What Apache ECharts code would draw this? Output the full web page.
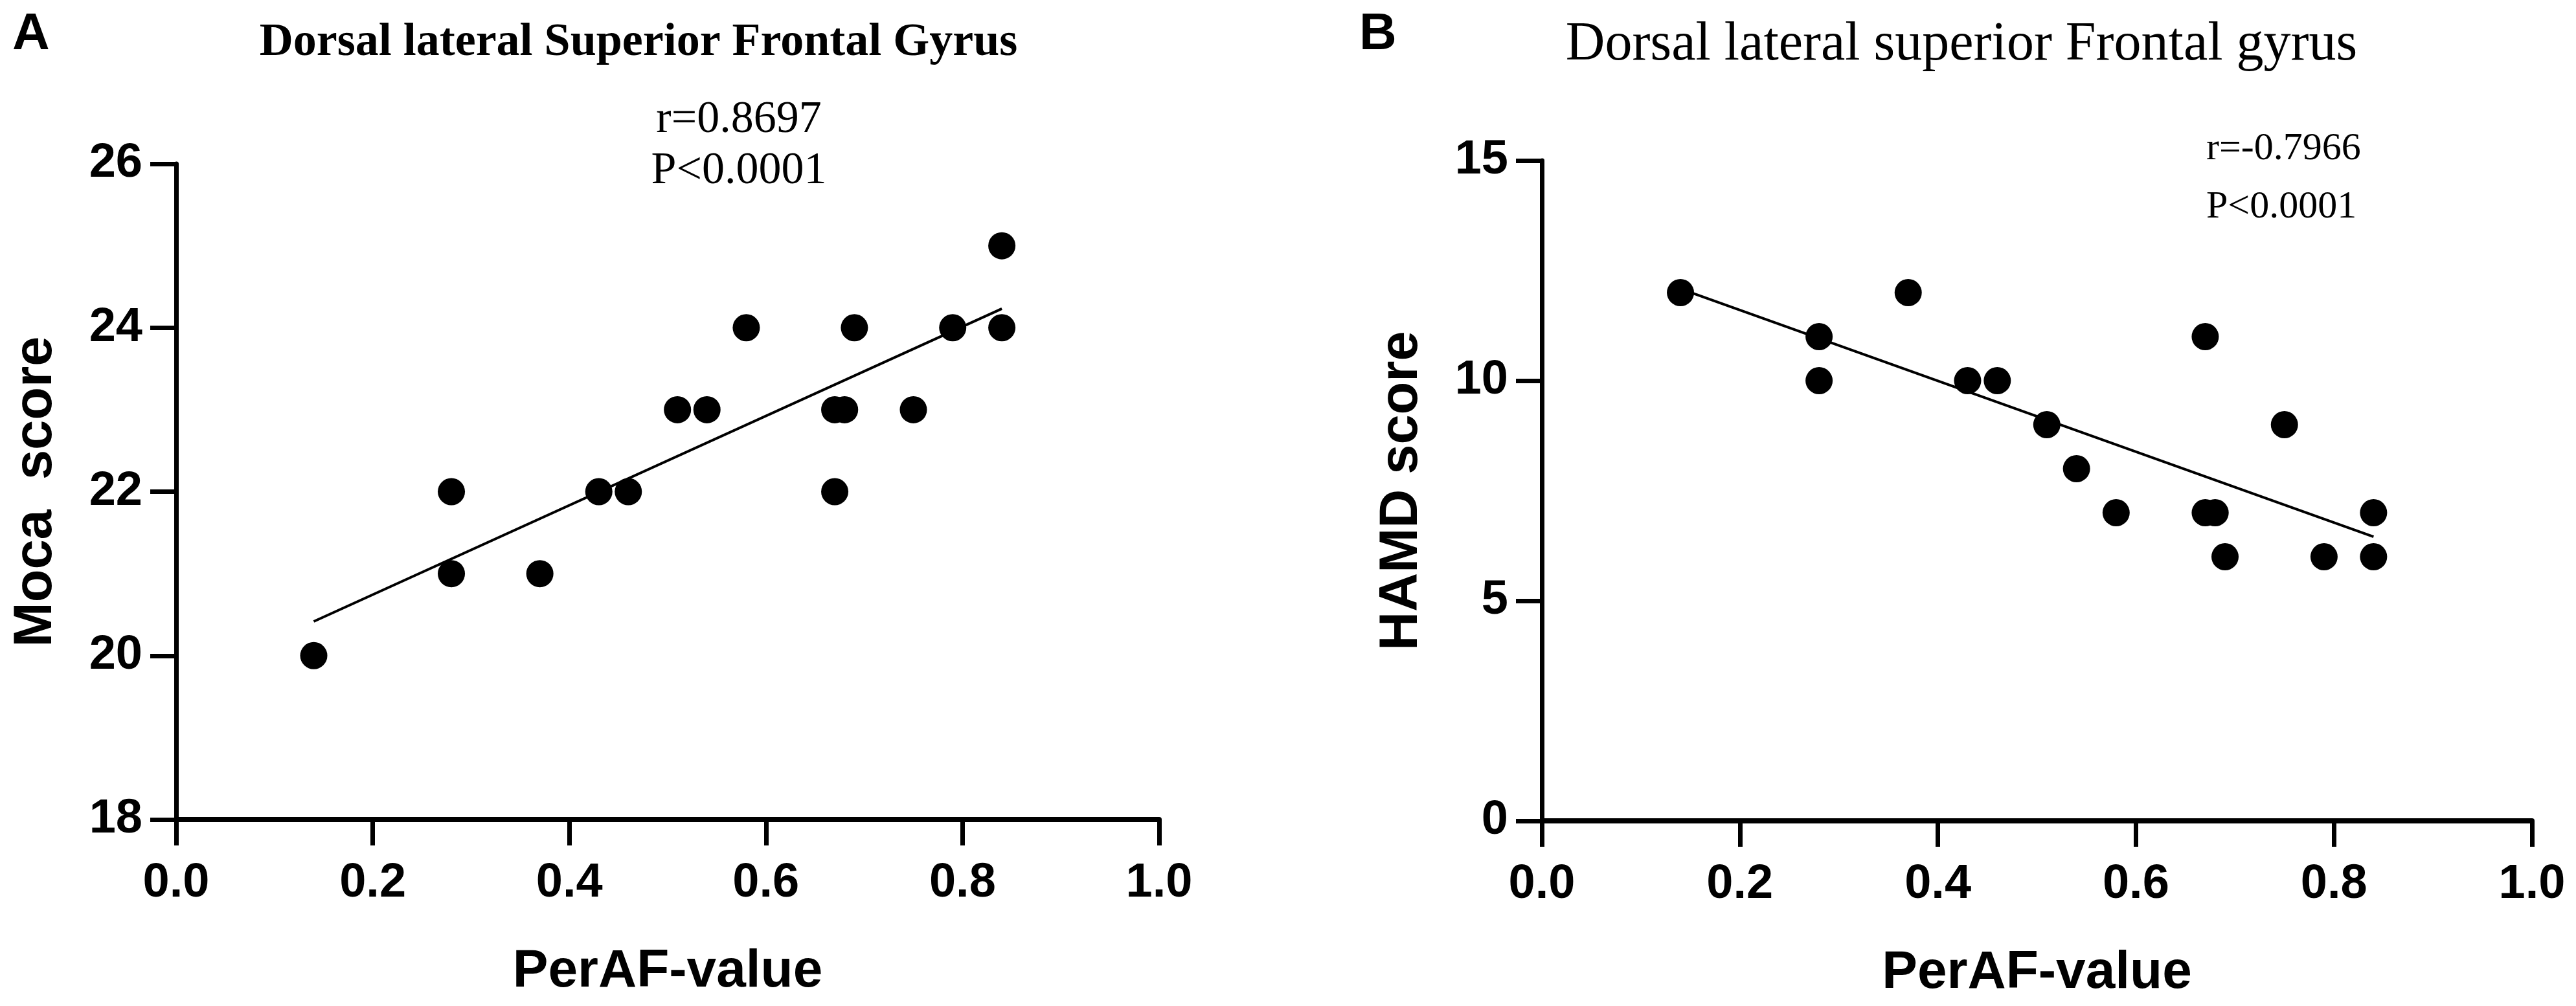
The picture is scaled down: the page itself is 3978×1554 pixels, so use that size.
<!DOCTYPE html>
<html>
<head>
<meta charset="utf-8">
<script src="https://cdn.jsdelivr.net/npm/echarts@6/dist/echarts.min.js"></script>
<style>
html,body{margin:0;padding:0;background:#fff;}
#chart{width:3978px;height:1554px;}
</style>
</head>
<body>
<div id="chart"></div>
<script>
// ---- data ----
const perafA = [0.14,0.28,0.28,0.37,0.43,0.46,0.51,0.54,0.58,0.67,0.67,0.68,0.69,0.75,0.79,0.84,0.84];
const mocaScores = [20,21,22,21,22,22,23,23,24,22,23,23,24,23,24,24,25];
const perafB = [0.14,0.28,0.28,0.37,0.43,0.46,0.51,0.54,0.58,0.67,0.67,0.68,0.69,0.75,0.79,0.84,0.84];
const hamdScores = [12,11,10,12,10,10,9,8,7,11,7,7,6,9,6,7,6];
const xTicks = [0, 0.2, 0.4, 0.6, 0.8, 1.0];
const yTicksA = [18, 20, 22, 24, 26];
const yTicksB = [0, 5, 10, 15];
const titleA = 'Dorsal lateral Superior Frontal Gyrus';
const titleB = 'Dorsal lateral superior Frontal gyrus';
const statsA = ['r=0.8697', 'P<0.0001'];
const statsB = ['r=-0.7966', 'P<0.0001'];
const xName = 'PerAF-value';
const yNameA = 'Moca  score';
const yNameB = 'HAMD score';

function pairs(xs, ys) { return xs.map((x, i) => [x, ys[i]]); }
function fitLine(xs, ys) {
  const n = xs.length;
  const mx = xs.reduce((a, b) => a + b, 0) / n;
  const my = ys.reduce((a, b) => a + b, 0) / n;
  let sxy = 0, sxx = 0;
  for (let i = 0; i < n; i++) { sxy += (xs[i] - mx) * (ys[i] - my); sxx += (xs[i] - mx) * (xs[i] - mx); }
  const b = sxy / sxx, a = my - b * mx;
  const x0 = Math.min(...xs), x1 = Math.max(...xs);
  return [[x0, a + b * x0], [x1, a + b * x1]];
}

const SANS = 'Liberation Sans, Arial, sans-serif';
const SERIF = 'Liberation Serif, Times New Roman, serif';
const INK = '#000';

function xAxis(gi) {
  return {
    type: 'value', gridIndex: gi, min: xTicks[0], max: xTicks[xTicks.length - 1], interval: 0.2,
    name: xName, nameLocation: 'middle', nameGap: 194,
    nameTextStyle: { fontFamily: SANS, fontWeight: 'bold', fontSize: 82, color: INK },
    axisLine: { onZero: false, lineStyle: { color: INK, width: 8 } },
    axisTick: { show: true, length: 40, lineStyle: { color: INK, width: 7 } },
    axisLabel: { margin: 62, fontFamily: SANS, fontWeight: 'bold', fontSize: 74, color: INK,
      formatter: v => v.toFixed(1) },
    splitLine: { show: false }
  };
}
function yAxis(gi, ticks, name, interval) {
  return {
    type: 'value', gridIndex: gi, min: ticks[0], max: ticks[ticks.length - 1], interval: interval,
    name: name, nameLocation: 'middle', nameGap: 174,
    nameTextStyle: { fontFamily: SANS, fontWeight: 'bold', fontSize: 83, color: INK },
    axisLine: { onZero: false, lineStyle: { color: INK, width: 7 } },
    axisTick: { show: true, length: 40, lineStyle: { color: INK, width: 7 } },
    axisLabel: { margin: 52, fontFamily: SANS, fontWeight: 'bold', fontSize: 74, color: INK },
    splitLine: { show: false }
  };
}
function txt(text, x, y, font, align) {
  return { type: 'text', x: x, y: y, z: 100,
    style: { text: text, font: font, fill: INK, textAlign: align || 'left', textVerticalAlign: 'middle' } };
}

const chart = echarts.init(document.getElementById('chart'), null, { renderer: 'canvas' });
chart.setOption({
  backgroundColor: '#fff',
  animation: false,
  grid: [
    { left: 272, top: 253, width: 1518, height: 1013 },
    { left: 2381, top: 248, width: 1529, height: 1020 }
  ],
  xAxis: [xAxis(0), xAxis(1)],
  yAxis: [yAxis(0, yTicksA, yNameA, 2), yAxis(1, yTicksB, yNameB, 5)],
  series: [
    { type: 'line', xAxisIndex: 0, yAxisIndex: 0, data: fitLine(perafA, mocaScores), showSymbol: false,
      lineStyle: { color: INK, width: 4 }, z: 2, silent: true },
    { type: 'scatter', xAxisIndex: 0, yAxisIndex: 0, data: pairs(perafA, mocaScores), symbol: 'circle',
      symbolSize: 42, itemStyle: { color: INK, opacity: 1 }, z: 3 },
    { type: 'line', xAxisIndex: 1, yAxisIndex: 1, data: fitLine(perafB, hamdScores), showSymbol: false,
      lineStyle: { color: INK, width: 4 }, z: 2, silent: true },
    { type: 'scatter', xAxisIndex: 1, yAxisIndex: 1, data: pairs(perafB, hamdScores), symbol: 'circle',
      symbolSize: 42, itemStyle: { color: INK, opacity: 1 }, z: 3 }
  ],
  graphic: [
    txt('A', 19, 54, 'bold 80px ' + SANS),
    txt('B', 2099, 54, 'bold 80px ' + SANS),
    txt(titleA, 986, 66, 'bold 72px ' + SERIF, 'center'),
    txt(titleB, 3029, 70, '84px ' + SERIF, 'center'),
    txt(statsA[0], 1141, 186, '70px ' + SERIF, 'center'),
    txt(statsA[1], 1141, 265, '70px ' + SERIF, 'center'),
    txt(statsB[0], 3407, 230, '60px ' + SERIF),
    txt(statsB[1], 3407, 320, '60px ' + SERIF)
  ]
});
</script>
</body>
</html>
